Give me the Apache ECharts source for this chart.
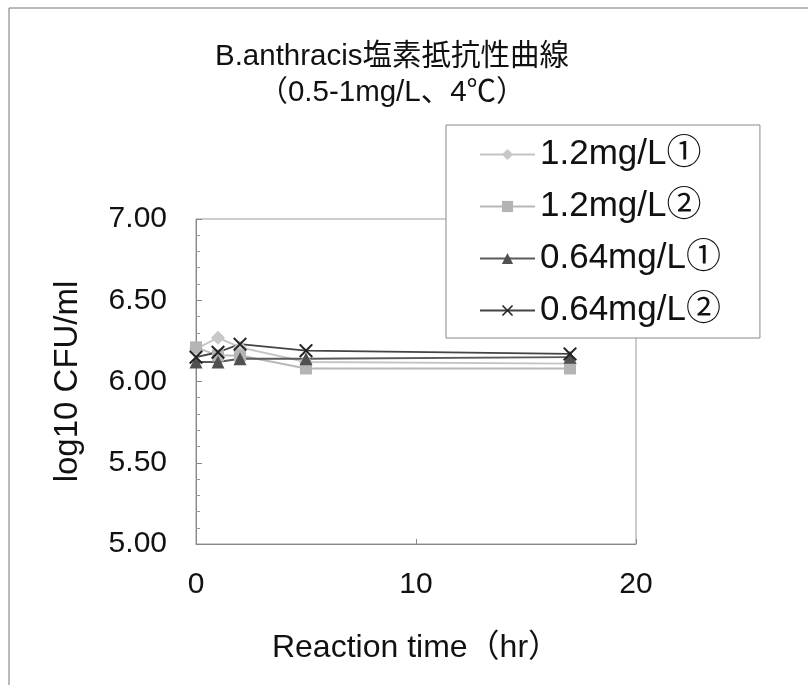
<!DOCTYPE html>
<html>
<head>
<meta charset="utf-8">
<script src="https://cdn.jsdelivr.net/npm/echarts@6/dist/echarts.min.js"></script>
<style>
  html, body { margin: 0; padding: 0; background: #fff; }
  #chart { width: 808px; height: 685px; }
</style>
</head>
<body>
<div id="chart"></div>
<script>
// 反応時間 (hr)
const hours = [0, 1, 2, 5, 17]
const seriesNames = ['1.2mg/L①', '1.2mg/L②', '0.64mg/L①', '0.64mg/L②']
// log10 CFU/ml
const conc12a = [6.20, 6.27, 6.21, 6.12, 6.11]
const conc12b = [6.21, 6.16, 6.16, 6.08, 6.08]
const conc064a = [6.12, 6.12, 6.14, 6.14, 6.15]
const conc064b = [6.15, 6.18, 6.23, 6.19, 6.17]

const FONT = "'Liberation Sans', 'Noto Sans CJK JP', sans-serif"
const crossPath = 'path://M0,1L1,0L5,4L9,0L10,1L6,5L10,9L9,10L5,6L1,10L0,9L4,5Z'

const pairs = (ys) => hours.map((h, i) => [h, ys[i]])

const mkSeries = (name, ys, symbol, size, color, lineColor) => ({
  name: name,
  type: 'line',
  data: pairs(ys),
  symbol: symbol,
  symbolSize: size,
  itemStyle: { color: color },
  lineStyle: { color: lineColor, width: 1.8 },
  emphasis: { disabled: true },
})

const chart = echarts.init(document.getElementById('chart'))
chart.setOption({
  animation: false,
  textStyle: { fontFamily: FONT },
  title: {
    text: 'B.anthracis塩素抵抗性曲線\n（0.5-1mg/L、4℃）',
    left: 387,
    top: 34,
    textAlign: 'center',
    textStyle: {
      fontFamily: FONT,
      fontSize: 29.5,
      fontWeight: 'normal',
      color: '#111',
      lineHeight: 36,
    },
  },
  graphic: [
    {
      type: 'rect',
      shape: { x: 9, y: 8, width: 820, height: 700 },
      style: { fill: 'none', stroke: '#777', lineWidth: 1 },
      silent: true,
    },
  ],
  legend: {
    orient: 'vertical',
    left: 446,
    top: 125,
    padding: [12, 39, 10, 33],
    itemWidth: 55,
    itemHeight: 14,
    itemGap: 17,
    itemTextGap: 10,
    itemStyle: { borderWidth: 0 },
    borderColor: '#888',
    borderWidth: 1,
    backgroundColor: '#fff',
    textStyle: { fontFamily: FONT, fontSize: 35, color: '#111', lineHeight: 35 },
    data: seriesNames,
  },
  grid: {
    left: 196,
    right: 172,
    top: 219,
    bottom: 141,
    show: true,
    borderColor: '#999',
    borderWidth: 1,
  },
  xAxis: {
    type: 'value',
    min: 0,
    max: 20,
    interval: 10,
    name: 'Reaction time（hr）',
    nameLocation: 'middle',
    nameGap: 88,
    nameTextStyle: { fontFamily: FONT, fontSize: 32, color: '#111' },
    axisLine: { show: true, lineStyle: { color: '#888' } },
    axisTick: { show: true, inside: true, length: 5, lineStyle: { color: '#888' } },
    axisLabel: { fontFamily: FONT, fontSize: 30, color: '#111', margin: 26 },
    splitLine: { show: false },
  },
  yAxis: {
    type: 'value',
    min: 5,
    max: 7,
    interval: 0.5,
    name: 'log10 CFU/ml',
    nameLocation: 'middle',
    nameGap: 112,
    nameTextStyle: { fontFamily: FONT, fontSize: 33, color: '#111' },
    axisLine: { show: true, lineStyle: { color: '#888' } },
    axisTick: { show: true, inside: true, length: 6, lineStyle: { color: '#888' } },
    minorTick: { show: true, splitNumber: 5, length: 4, lineStyle: { color: '#999' } },
    axisLabel: {
      fontFamily: FONT,
      fontSize: 30,
      color: '#111',
      margin: 29,
      formatter: (v) => v.toFixed(2),
    },
    splitLine: { show: false },
  },
  series: [
    mkSeries(seriesNames[0], conc12a, 'diamond', 14, '#c8c8c8', '#c4c4c4'),
    mkSeries(seriesNames[1], conc12b, 'rect', 12, '#b4b4b4', '#b8b8b8'),
    mkSeries(seriesNames[2], conc064a, 'triangle', 13, '#505050', '#5a5a5a'),
    mkSeries(seriesNames[3], conc064b, crossPath, 14, '#222', '#444'),
  ],
})
</script>
</body>
</html>
